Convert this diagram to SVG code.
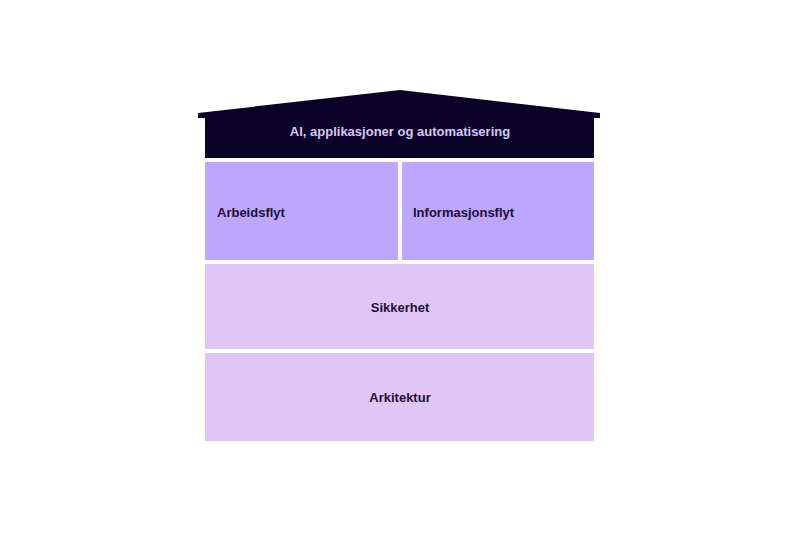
<svg xmlns="http://www.w3.org/2000/svg" width="800" height="533" viewBox="0 0 800 533">
<style>
text{font-family:"Liberation Sans",Arial,sans-serif;font-size:13px;font-weight:bold;fill:#1c0f38}
.mid{fill:#bca6fe}
.light{fill:#e0c6f7}
</style>
<rect width="800" height="533" fill="#ffffff"/>
<g id="roof">
<path d="M198,113 L400,90 L600,113 L600,118 L594,118 L594,158 L205,158 L205,118 L198,118 Z" fill="#0b0327"/>
<text x="400" y="135.5" text-anchor="middle" style="fill:#d9c6f6">AI, applikasjoner og automatisering</text>
</g>
<g id="arbeidsflyt">
<rect class="mid" x="205" y="162" width="193" height="98"/>
<text x="217" y="216.5">Arbeidsflyt</text>
</g>
<g id="informasjonsflyt">
<rect class="mid" x="402" y="162" width="192" height="98"/>
<text x="413" y="216.5">Informasjonsflyt</text>
</g>
<g id="sikkerhet">
<rect class="light" x="205" y="264" width="389" height="85"/>
<text x="400" y="311.5" text-anchor="middle">Sikkerhet</text>
</g>
<g id="arkitektur">
<rect class="light" x="205" y="353" width="389" height="88"/>
<text x="400" y="401.5" text-anchor="middle">Arkitektur</text>
</g>
<g id="connectors"/>
</svg>
